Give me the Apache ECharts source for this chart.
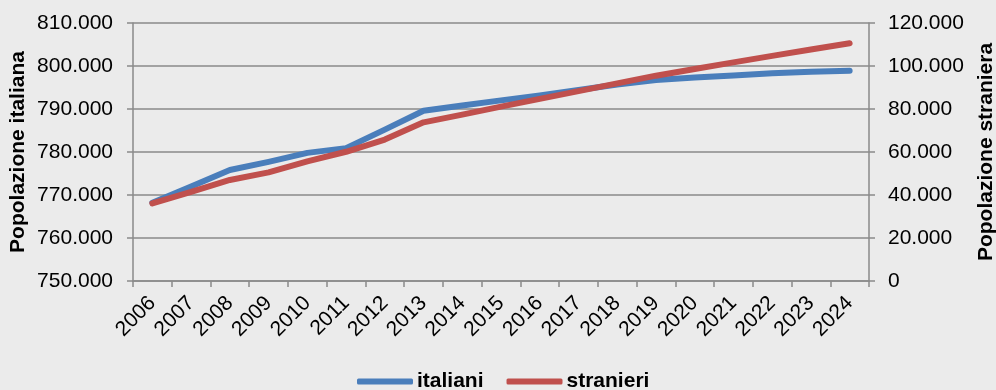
<!DOCTYPE html>
<html>
<head>
<meta charset="utf-8">
<script src="https://cdn.jsdelivr.net/npm/echarts@6/dist/echarts.min.js"></script>
<style>
html,body{margin:0;padding:0;background:#ebebeb;}
#chart{width:996px;height:390px;}
</style>
</head>
<body>
<div id="chart"></div>
<script>
const years = ['2006','2007','2008','2009','2010','2011','2012','2013','2014','2015','2016','2017','2018','2019','2020','2021','2022','2023','2024'];
const italiani = [768200, 772000, 775800, 777700, 779800, 780900, 785200, 789600, 790800, 792000, 793150, 794400, 795700, 796750, 797300, 797800, 798300, 798650, 798900];
const stranieri = [36100, 41500, 47000, 50500, 55600, 60100, 65800, 73800, 77400, 81100, 84700, 88300, 91900, 95500, 98600, 101700, 104700, 107700, 110600];
const seriesNames = ['italiani', 'stranieri'];
const leftAxisName = 'Popolazione italiana';
const rightAxisName = 'Popolazione straniera';

const fontFamily = '"Liberation Sans", Arial, sans-serif';
const axisColor = '#8a8a8a';
function fmt(v){
  if (v === 0) return '0';
  return String(Math.round(v)).replace(/\B(?=(\d{3})+(?!\d))/g, '.');
}

const chart = echarts.init(document.getElementById('chart'), null, {renderer:'canvas'});
chart.setOption({
  backgroundColor: '#ebebeb',
  animation: false,
  textStyle: {fontFamily: fontFamily},
  grid: {left: 133, right: 127, top: 23, bottom: 109, containLabel: false, outerBoundsMode: 'none'},
  legend: {
    data: seriesNames,
    left: 357, top: 371, padding: 0,
    itemWidth: 56, itemHeight: 6, itemGap: 23,
    icon: 'roundRect',
    textStyle: {fontSize: 21, fontWeight: 'bold', color: '#000', fontFamily: fontFamily, padding: [0,0,0,-1]}
  },
  xAxis: {
    type: 'category',
    data: years,
    boundaryGap: true,
    axisLine: {show: true, lineStyle: {color: axisColor, width: 1.5}},
    axisTick: {show: true, length: 6, interval: 0, lineStyle: {color: axisColor, width: 1.5}},
    axisLabel: {rotate: 45, interval: 0, margin: 19, fontSize: 21, color: '#000', fontFamily: fontFamily},
    splitLine: {show: false}
  },
  yAxis: [
    {
      type: 'value', position: 'left',
      min: 750000, max: 810000, interval: 10000,
      name: leftAxisName, nameLocation: 'middle', nameGap: 115, nameRotate: 90, nameMoveOverlap: false,
      nameTextStyle: {fontSize: 21, fontWeight: 'bold', color: '#000', fontFamily: fontFamily, verticalAlign: 'middle'},
      axisLine: {show: true, lineStyle: {color: axisColor, width: 1.5}},
      axisTick: {show: true, length: 6, lineStyle: {color: axisColor, width: 1.5}},
      axisLabel: {formatter: fmt, fontSize: 21, color: '#000', margin: 20, fontFamily: fontFamily},
      splitLine: {show: true, lineStyle: {color: axisColor, width: 1.5}}
    },
    {
      type: 'value', position: 'right',
      min: 0, max: 120000, interval: 20000,
      name: rightAxisName, nameLocation: 'middle', nameGap: 117, nameRotate: 90, nameMoveOverlap: false,
      nameTextStyle: {fontSize: 21, fontWeight: 'bold', color: '#000', fontFamily: fontFamily, verticalAlign: 'middle'},
      axisLine: {show: true, lineStyle: {color: axisColor, width: 1.5}},
      axisTick: {show: true, length: 6, lineStyle: {color: axisColor, width: 1.5}},
      axisLabel: {formatter: fmt, fontSize: 21, color: '#000', margin: 19, fontFamily: fontFamily},
      splitLine: {show: false}
    }
  ],
  series: [
    {
      name: seriesNames[0], type: 'line', yAxisIndex: 0, data: italiani,
      symbol: 'none', smooth: false,
      itemStyle: {color: '#4a7ebb'},
      lineStyle: {color: '#4a7ebb', width: 6, cap: 'round', join: 'round'}
    },
    {
      name: seriesNames[1], type: 'line', yAxisIndex: 1, data: stranieri,
      symbol: 'none', smooth: false,
      itemStyle: {color: '#c0504d'},
      lineStyle: {color: '#c0504d', width: 6, cap: 'round', join: 'round'}
    }
  ]
});
</script>
</body>
</html>
